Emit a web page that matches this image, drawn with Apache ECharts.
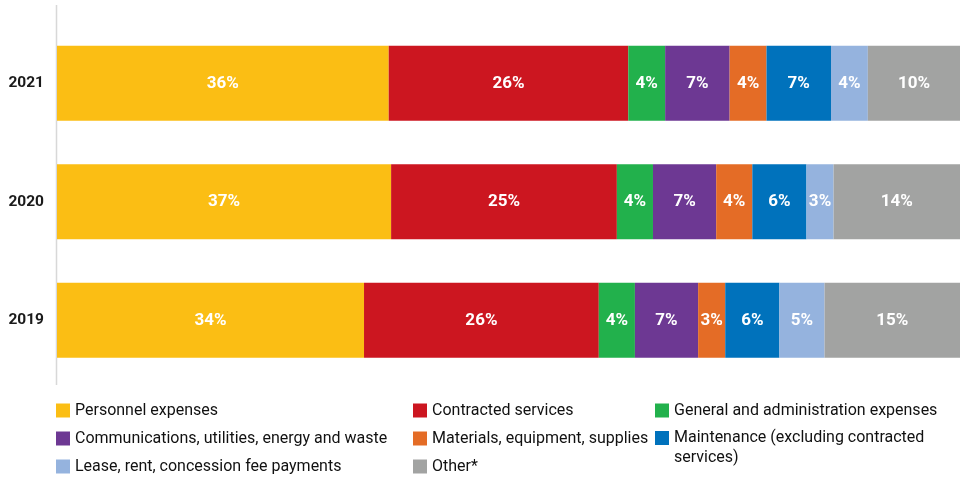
<!DOCTYPE html>
<html>
<head>
<meta charset="utf-8">
<script src="https://cdn.jsdelivr.net/npm/echarts@6/dist/echarts.min.js"></script>
<style>
  html, body { margin: 0; padding: 0; background: #fff; }
  #chart { width: 963px; height: 479px; }
</style>
</head>
<body>
<div id="chart"></div>
<script>
// Years shown top to bottom
const years = ['2021', '2020', '2019'];

// Expense categories (legend order) and their colours
const categories = [
  'Personnel expenses',
  'Contracted services',
  'General and administration expenses',
  'Communications, utilities, energy and waste',
  'Materials, equipment, supplies',
  'Maintenance (excluding contracted services)',
  'Lease, rent, concession fee payments',
  'Other*'
];
const colors = ['#FBBE14', '#CC1620', '#22B14C', '#6D3893', '#E46C26', '#0072BC', '#95B3DE', '#A2A3A2'];

// Share of expenses per category, in percent, for 2021, 2020, 2019
const personnel      = [36, 37, 34];
const contracted     = [26, 25, 26];
const generalAdmin   = [4, 4, 4];
const communications = [7, 7, 7];
const materials      = [4, 4, 3];
const maintenance    = [7, 6, 6];
const lease          = [4, 3, 5];
const other          = [10, 14, 15];

const values = [personnel, contracted, generalAdmin, communications, materials, maintenance, lease, other];

// Each bar fills the full width: segments are shares of that year's total
const totals = years.map((_, j) => values.reduce((s, v) => s + v[j], 0));

const FONT = 'Roboto, "Liberation Sans", sans-serif';

const series = categories.map((name, i) => ({
  name: name,
  type: 'bar',
  stack: 'total',
  barWidth: 75,
  itemStyle: { color: colors[i] },
  label: {
    show: true,
    position: 'inside',
    color: '#fff',
    fontFamily: FONT,
    fontSize: 17,
    fontWeight: 'bold',
    formatter: p => values[i][p.dataIndex] + '%'
  },
  emphasis: { disabled: true },
  data: values[i].map((v, j) => v / totals[j] * 100)
}));

const legendBase = {
  orient: 'vertical',
  padding: 0,
  itemWidth: 14,
  itemHeight: 14,
  itemGap: 10,
  icon: 'rect',
  selectedMode: false,
  textStyle: { fontFamily: FONT, fontSize: 16, lineHeight: 18, color: '#111' }
};

const chart = echarts.init(document.getElementById('chart'), null, { renderer: 'canvas' });
chart.setOption({
  animation: false,
  grid: { left: 57, right: 3, top: 24, height: 355.5 },
  xAxis: {
    type: 'value', min: 0, max: 100,
    show: false
  },
  yAxis: {
    type: 'category',
    data: years,
    inverse: true,
    axisLine: { show: false },
    axisTick: { show: false },
    axisLabel: { margin: 13, color: '#1a1a1a', fontFamily: FONT, fontSize: 15.5, fontWeight: 'bold' }
  },
  legend: [
    Object.assign({}, legendBase, { left: 56, top: 401.5, data: [categories[0], categories[3], categories[6]] }),
    Object.assign({}, legendBase, { left: 413, top: 401.5, data: [categories[1], categories[4], categories[7]] }),
    Object.assign({}, legendBase, { left: 655, top: 401.5, data: [categories[2]] }),
    Object.assign({}, legendBase, {
      left: 655, top: 408, data: [categories[5]],
      textStyle: { fontFamily: FONT, fontSize: 16, lineHeight: 20, color: '#111' },
      formatter: () => '\nMaintenance (excluding contracted\nservices)'
    })
  ],
  graphic: [{
    type: 'line',
    silent: true,
    shape: { x1: 56.5, y1: 5, x2: 56.5, y2: 385 },
    style: { stroke: '#d8d8d8', lineWidth: 1.5 }
  }],
  series: series
});
</script>
</body>
</html>
